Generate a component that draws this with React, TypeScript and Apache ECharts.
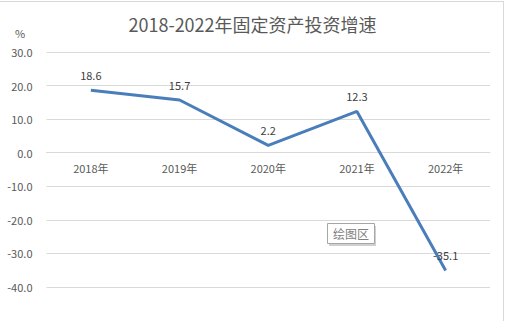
import React, { useEffect, useRef } from "react";
import * as echarts from "echarts";

const categories = ["2018年", "2019年", "2020年", "2021年", "2022年"];
const growth = [18.6, 15.7, 2.2, 12.3, -35.1];
const titleText = "2018-2022年固定资产投资增速";
const unitText = "%";
const yMin = -40;
const yMax = 30;
const yStep = 10;

const FONT = "'Noto Sans CJK SC', 'Noto Sans', sans-serif";

const GRID_TOP = 52;
const GRID_BOTTOM = 34;
const CHART_H = 321;

export default function App() {
  const ref = useRef<HTMLDivElement>(null);
  useEffect(() => {
    if (!ref.current) return;
    const chart = echarts.init(ref.current, undefined, { renderer: "svg" });
    const plotH = CHART_H - GRID_TOP - GRID_BOTTOM;
    const zeroOffset = -(plotH * (0 - yMin)) / (yMax - yMin);
    chart.setOption({
      animation: false,
      backgroundColor: "#ffffff",
      textStyle: { fontFamily: FONT },
      title: {
        text: titleText,
        left: "center",
        top: 10,
        textStyle: { fontFamily: FONT, fontSize: 18, fontWeight: "normal", color: "#595959" },
      },
      grid: { left: 46.5, right: 15, top: GRID_TOP, bottom: GRID_BOTTOM, containLabel: false },
      xAxis: {
        type: "category",
        data: categories,
        boundaryGap: true,
        offset: zeroOffset,
        axisLine: { show: true, onZero: false, lineStyle: { color: "#d9d9d9", width: 1 } },
        axisTick: { show: false },
        axisLabel: { margin: 10, fontSize: 11, color: "#595959", fontFamily: FONT },
        splitLine: { show: false },
      },
      yAxis: {
        type: "value",
        min: yMin,
        max: yMax,
        interval: yStep,
        axisLine: { show: false },
        axisTick: { show: false },
        axisLabel: {
          margin: 14,
          fontSize: 11,
          color: "#595959",
          fontFamily: FONT,
          formatter: (v: number) => v.toFixed(1),
        },
        splitLine: { show: true, lineStyle: { color: "#d9d9d9", width: 1 } },
      },
      series: [
        {
          type: "line",
          data: growth,
          symbol: "circle",
          symbolSize: 0,
          showSymbol: true,
          lineStyle: { color: "#4a7ebb", width: 3 },
          itemStyle: { color: "#4a7ebb" },
          label: {
            show: true,
            position: "top",
            distance: 10,
            fontSize: 11,
            color: "#404040",
            fontFamily: FONT,
            formatter: (p: any) => Number(p.value).toFixed(1),
          },
        },
      ],
      graphic: [
        {
          type: "line",
          shape: { x1: 0, y1: 1.5, x2: 503, y2: 1.5 },
          style: { stroke: "#d9d9d9", lineWidth: 1 },
        },
        {
          type: "line",
          shape: { x1: 503.5, y1: 1, x2: 503.5, y2: 321 },
          style: { stroke: "#d9d9d9", lineWidth: 1 },
        },
        {
          type: "text",
          left: 15,
          top: 27,
          style: { text: unitText, fontSize: 11, fill: "#595959", fontFamily: FONT },
        },
        {
          type: "rect",
          shape: { x: 329, y: 226, width: 47, height: 20 },
          style: { fill: "#d0d0d0" },
        },
        {
          type: "rect",
          shape: { x: 327.5, y: 223.5, width: 47, height: 20 },
          style: { fill: "#ffffff", stroke: "#a6a6a6", lineWidth: 1 },
        },
        {
          type: "text",
          x: 351,
          y: 233.5,
          style: {
            text: "绘图区",
            fontSize: 12,
            fill: "#808080",
            fontFamily: FONT,
            align: "center",
            verticalAlign: "middle",
          },
        },
      ],
    });
    return () => chart.dispose();
  }, []);
  return <div ref={ref} style={{ width: 505, height: 321, position: "absolute", left: 0, top: 0 }} />;
}
